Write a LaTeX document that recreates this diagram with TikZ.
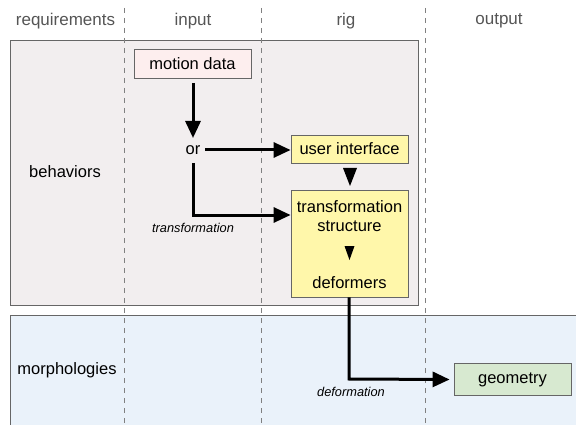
\documentclass[tikz,border=0pt]{standalone}
\usepackage{fontspec}
\setmainfont{Liberation Sans}
\usetikzlibrary{arrows.meta}
\definecolor{behfill}{HTML}{F2EEEF}
\definecolor{morfill}{HTML}{EAF2FA}
\definecolor{yel}{HTML}{FFF7AA}
\definecolor{pinkb}{HTML}{FDEEEE}
\definecolor{greenb}{HTML}{D7E9D0}
\definecolor{hdr}{HTML}{555555}
\definecolor{edge}{HTML}{666666}
\tikzset{
  lane/.style={draw=edge, line width=0.8pt},
  blk/.style={draw=edge, line width=0.8pt, font=\fontsize{16.5}{19}\selectfont, inner sep=0pt},
  hdrtxt/.style={text=hdr, font=\fontsize{17}{19}\selectfont},
  lbl/.style={font=\fontsize{16.5}{19}\selectfont},
  small/.style={font=\itshape\fontsize{12.8}{15}\selectfont},
  flow/.style={line width=3pt, -{Triangle[length=17pt,width=15pt]}},
  sep/.style={draw=gray, line width=0.8pt, dash pattern=on 5pt off 5pt},
  tri/.style={fill=black, draw=none},
}
\begin{document}
\begin{tikzpicture}[x=1pt,y=-1pt]
\useasboundingbox (0,0) rectangle (576,425);
% lanes
\draw[lane, fill=behfill] (10,40) rectangle (418,305);
\draw[lane, fill=morfill] (10,315) rectangle (580,430);
% separators
\draw[sep] (124,8) -- (124,425);
\draw[sep] (261,8) -- (261,425);
\draw[sep] (425,8) -- (425,425);
% headers
\node[hdrtxt] (hreq) at (65.5,21) {requirements};
\node[hdrtxt] (hin) at (193,21) {input};
\node[hdrtxt] (hrig) at (346,21) {rig};
\node[hdrtxt] (hout) at (499,21) {output};
% lane labels
\node[lbl] (beh) at (65,172) {behaviors};
\node[lbl] (mor) at (67,370) {morphologies};
% nodes
\node[blk, fill=pinkb, minimum width=117pt, minimum height=29pt] (md) at (192.5,63.5) {motion data};
\node[lbl] (or) at (193,150) {or};
\node[blk, fill=yel, minimum width=117pt, minimum height=28pt] (ui) at (349.5,149) {user interface};
\node[draw=edge, line width=0.8pt, fill=yel, minimum width=117pt, minimum height=107pt, inner sep=0pt] (ts) at (349.5,243.5) {};
\node[lbl, align=center] (tstext) at (349.5,216.5) {transformation\\structure};
\node[lbl] (def) at (349.5,283) {deformers};
\node[blk, fill=greenb, minimum width=117pt, minimum height=32pt] (geo) at (512.5,379.5) {geometry};
% arrows
\coordinate (mdout) at (193,83);
\coordinate (ortop) at (193,138);
\draw[flow] (mdout) -- (ortop);
\coordinate (oreast) at (205,150);
\draw[flow] (oreast) -- (ui.west |- oreast);
\coordinate (orbot) at (193,163);
\coordinate (ortr) at (193,215);
\draw[flow] (orbot) -- (ortr) -- (ts.west |- ortr);
\node[small] (ltr) at (193,228) {transformation};
\coordinate (deftr) at (349,379);
\draw[flow] (ts.south -| deftr) -- (deftr) -- ([xshift=-4pt]geo.west);
\node[small] (ldef) at (351,392) {deformation};
% small triangles
\fill[tri] (343,168) -- (357,168) -- (350,186) -- cycle;
\fill[tri] (344.5,246) -- (354.5,246) -- (349.5,260) -- cycle;
\end{tikzpicture}
\end{document}
